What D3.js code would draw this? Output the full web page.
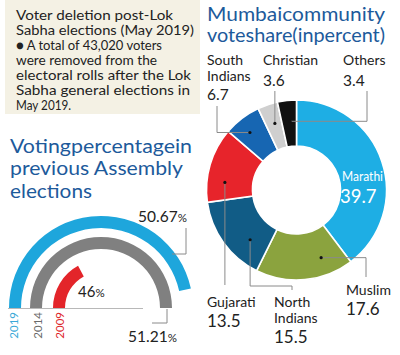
<!DOCTYPE html>
<html><head><meta charset="utf-8">
<script src="https://cdn.jsdelivr.net/npm/d3@7"></script>
<style>
html,body{margin:0;padding:0;background:#fff;}
svg{display:block;font-family:Lato,"Noto Sans",sans-serif;}
</style></head><body>
<svg id="c" width="400" height="355"></svg>
<script>
// ---- data ----
const communities = ["Marathi","Muslim","North Indians","Gujarati","South Indians","Christian","Others"];
const shares = [39.7, 17.6, 15.5, 13.5, 6.7, 3.6, 3.4];
const years = ["2019","2014","2009"];
const turnout = [50.67, 51.21, 46];
const noteLines = [
  "Voter deletion post-Lok",
  "Sabha elections (May 2019)",
  "\u25CF A total of 43,020 voters",
  "were removed from the",
  "electoral rolls after the Lok",
  "Sabha general elections in",
  "May 2019."
];
const titleLeft = ["Votingpercentagein","previous Assembly","elections"];
const titleRight = ["Mumbaicommunity","voteshare(inpercent)"];

// ---- styles / layout ----
const sliceColors = ["#1eaee4","#8ba33e","#115c86","#e7242b","#1766b2","#cfcfcf","#111111"];
const gaugeColors = ["#1ea6dc","#808080","#e3252a"];
const yearColors = ["#3ba9d8","#6a6a6a","#de262b"];
const titleBlue = "#1d5a9b";

const svg = d3.select("#c");

// note box
svg.append("rect").attr("x",5).attr("y",0).attr("width",195).attr("height",114).attr("fill","#f4f1e4");
const noteW = [157,178,146,141,175,174,55];
svg.append("g").selectAll("text").data(noteLines).join("text")
  .attr("x",16).attr("y",(d,i)=>20+i*15)
  .attr("font-size",13.5).attr("fill","#222")
  .attr("textLength",(d,i)=>noteW[i]).attr("lengthAdjust","spacingAndGlyphs")
  .text(d=>d);

// titles
const tlW = [182,173,82];
svg.append("g").selectAll("text").data(titleLeft).join("text")
  .attr("x",10).attr("y",(d,i)=>[153,175,198][i])
  .attr("font-size",19.5).attr("fill",titleBlue)
  .attr("textLength",(d,i)=>tlW[i]).attr("lengthAdjust","spacingAndGlyphs")
  .text(d=>d);
svg.append("g").selectAll("text").data(titleRight).join("text")
  .attr("x",207).attr("y",(d,i)=>[21,42][i])
  .attr("font-size",19).attr("fill",titleBlue)
  .attr("textLength",178).attr("lengthAdjust","spacingAndGlyphs")
  .text(d=>d);

// ---- donut ----
const cx = 296.5, cy = 190;
const pie = d3.pie().sort(null).value(d=>d)(shares);
const arc = d3.arc().innerRadius(44).outerRadius(90);
const dg = svg.append("g").attr("transform",`translate(${cx},${cy})`);
dg.selectAll("path").data(pie).join("path")
  .attr("d",arc).attr("fill",(d,i)=>sliceColors[i])
  .attr("stroke","#fff").attr("stroke-width",1.6);

const fmt = d3.format(".1f");
const polar = (deg, r) => [cx + r*Math.sin(deg*Math.PI/180), cy - r*Math.cos(deg*Math.PI/180)];

// annotation layout (leader routes and label placement)
const ann = [
  {i:1, deg:160, r:72, route:p=>[p,[366,p[1]],[366,277]], lx:346, ly:[295], ny:315, ns:17},
  {i:2, deg:223, r:68, route:p=>[p,[p[0],286],[292,286],[292,290]], lx:274, ly:[307,323], ny:343, ns:17},
  {i:3, deg:276, r:72, route:p=>[p,[p[0],285]], lx:207, ly:[307], ny:327, ns:17},
  {i:4, deg:321, r:74, route:p=>[p,[217,p[1]],[217,106]], lx:207, ly:[65,81], ny:100, ns:15.5},
  {i:5, deg:342, r:70, route:p=>[p,[p[0],91]], lx:263, ly:[65], ny:86, ns:15.5},
  {i:6, deg:354.6, r:69, route:p=>[p,[367,p[1]],[367,91]], lx:343, ly:[65], ny:86, ns:15.5}
];
const ag = svg.append("g");
ann.forEach(a=>{
  const p = polar(a.deg, a.r);
  ag.append("path").attr("d",d3.line()(a.route(p))).attr("fill","none")
    .attr("stroke","#8a8a8a").attr("stroke-width",1);
  ag.append("circle").attr("cx",p[0]).attr("cy",p[1]).attr("r",1.6).attr("fill","#111");
  const name = communities[a.i];
  const parts = a.ly.length===2 ? name.split(" ") : [name];
  parts.forEach((t,k)=>{
    ag.append("text").attr("x",a.lx).attr("y",a.ly[k]).attr("font-size",14).attr("fill","#222").text(t);
  });
  ag.append("text").attr("x",a.lx).attr("y",a.ny).attr("font-size",a.ns).attr("fill","#222").text(fmt(shares[a.i]));
});
// Marathi inside label
ag.append("text").attr("x",342).attr("y",181).attr("font-size",14).attr("fill","#fff")
  .attr("textLength",41).attr("lengthAdjust","spacingAndGlyphs").text(communities[0]);
ag.append("text").attr("x",340).attr("y",203).attr("font-size",18.5).attr("fill","#fff").text(fmt(shares[0]));

// ---- gauge ----
const gx = 101, gy = 308;
const ang = d3.scaleLinear().domain([43.3, 51.21]).range([0, Math.PI]);
const radii = [[80,92],[59,71],[36,48]];
const gg = svg.append("g").attr("transform",`translate(${gx},${gy})`);
gg.append("line").attr("x1",8-gx).attr("x2",143-gx).attr("y1",0.5).attr("y2",0.5)
  .attr("stroke","#b8b8b8").attr("stroke-width",1);
gg.selectAll("path").data(turnout).join("path")
  .attr("d",(d,i)=>d3.arc().innerRadius(radii[i][0]).outerRadius(radii[i][1])
     .startAngle(-Math.PI/2).endAngle(-Math.PI/2+ang(d))())
  .attr("fill",(d,i)=>gaugeColors[i]);

// year labels (rotated)
const yx = [18, 42, 63.5];
svg.append("g").selectAll("text").data(years).join("text")
  .attr("transform",(d,i)=>`translate(${yx[i]},312) rotate(-90)`)
  .attr("text-anchor","end").attr("font-size",11.5)
  .attr("fill",(d,i)=>yearColors[i]).text(d=>d);

// value labels
const vfmt = v => (Number.isInteger(v) ? String(v) : d3.format(".2f")(v));
const vpos = [[138,222],[128,342],[78,297]];
const vsize = [15.5,15.5,15];
turnout.forEach((v,i)=>{
  const t = svg.append("text").attr("x",vpos[i][0]).attr("y",vpos[i][1])
    .attr("font-size",vsize[i]).attr("fill","#222");
  t.append("tspan").text(vfmt(v));
  t.append("tspan").attr("font-size",11.5).text("%");
});
// gauge leaders
svg.append("path").attr("d",d3.line()([[172,254],[186,254],[186,228]]))
  .attr("fill","none").attr("stroke","#8a8a8a");
svg.append("path").attr("d",d3.line()([[167,309],[167,323],[152,323]]))
  .attr("fill","none").attr("stroke","#8a8a8a");
</script>
</body></html>
